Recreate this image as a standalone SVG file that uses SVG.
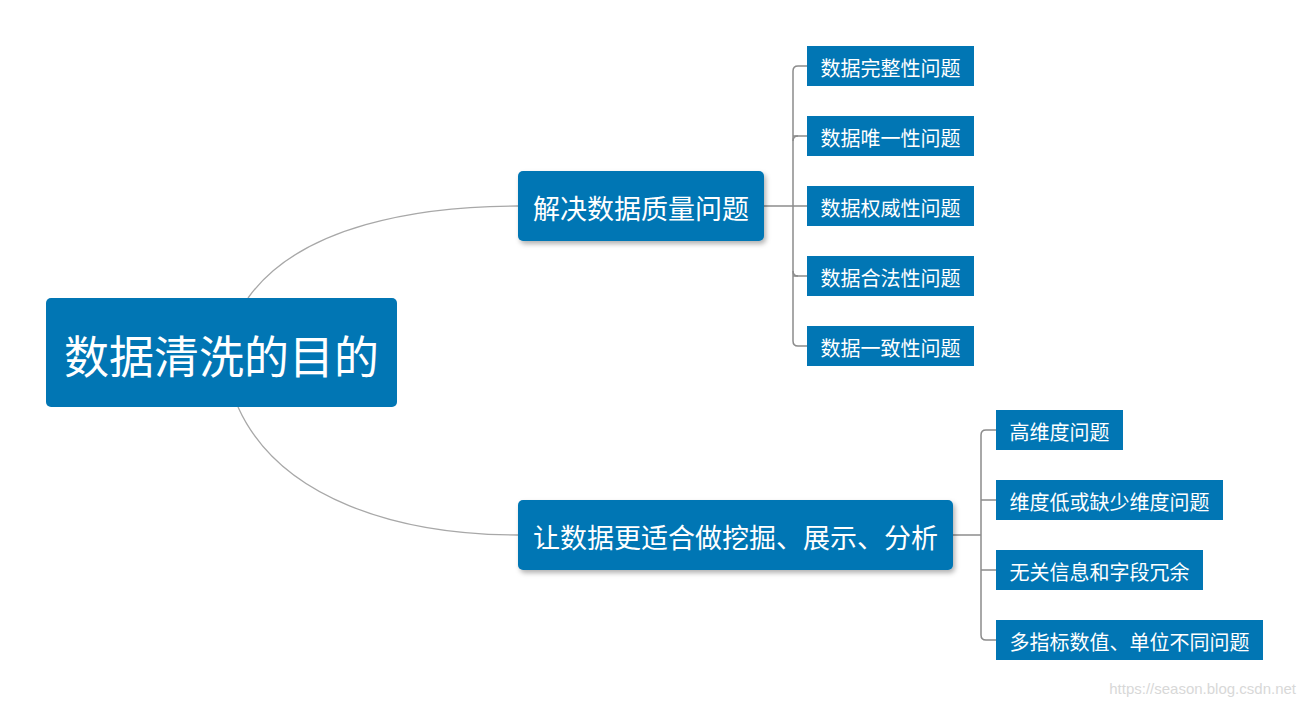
<svg xmlns="http://www.w3.org/2000/svg" width="1306" height="705" viewBox="0 0 1306 705">
<style>
.main{fill:#0176b4}
.leaf{fill:#0176b4}
.t{fill:#fff;font-family:"Noto Sans CJK SC","Noto Sans",sans-serif;text-anchor:middle;dominant-baseline:central}
.curve{fill:none;stroke:#a8a8a8;stroke-width:1.3}
.br{fill:none;stroke:#8c8c8c;stroke-width:1.5}
</style>
<defs>
<filter id="sh" x="-10%" y="-20%" width="125%" height="150%">
<feDropShadow dx="2" dy="3" stdDeviation="2.5" flood-color="#000" flood-opacity="0.3"/>
</filter>
</defs>
<rect width="1306" height="705" fill="#fff"/>
<g id="connectors">
<path class="curve" d="M248,298 C300,225 420,206 518,206"/>
<path class="curve" d="M238,407 C280,500 400,535 518,535"/>
<path class="br" d="M764,206 H793"/>
<path class="br" d="M807,66 H798 Q793,66 793,71 V341 Q793,346 798,346 H807"/>
<path class="br" d="M793,136 H807 M793,206 H807 M793,276 H807"/>
<path class="br" d="M793,141 Q793,136 798,136 M793,271 Q793,276 798,276"/>
<path class="br" d="M953,535 H981"/>
<path class="br" d="M996,430 H986 Q981,430 981,435 V635 Q981,640 986,640 H996"/>
<path class="br" d="M981,500 H996 M981,570 H996"/>
</g>
<g id="root">
<rect x="46" y="298" width="351" height="109" rx="5" class="main"/>
<text x="221.5" y="354" class="t" font-size="45">数据清洗的目的</text>
</g>
<g id="nodeA">
<rect x="518" y="171" width="246" height="70" rx="5" class="main" filter="url(#sh)"/>
<text x="641" y="207" class="t" font-size="27">解决数据质量问题</text>
</g>
<g id="nodeB">
<rect x="518" y="500" width="435" height="70" rx="5" class="main" filter="url(#sh)"/>
<text x="735.5" y="536" class="t" font-size="27">让数据更适合做挖掘、展示、分析</text>
</g>
<g id="a1"><rect x="807" y="46" width="167" height="40" class="leaf"/><text x="890.5" y="67" class="t" font-size="20">数据完整性问题</text></g>
<g id="a2"><rect x="807" y="116" width="167" height="40" class="leaf"/><text x="890.5" y="137" class="t" font-size="20">数据唯一性问题</text></g>
<g id="a3"><rect x="807" y="186" width="167" height="40" class="leaf"/><text x="890.5" y="207" class="t" font-size="20">数据权威性问题</text></g>
<g id="a4"><rect x="807" y="256" width="167" height="40" class="leaf"/><text x="890.5" y="277" class="t" font-size="20">数据合法性问题</text></g>
<g id="a5"><rect x="807" y="326" width="167" height="40" class="leaf"/><text x="890.5" y="347" class="t" font-size="20">数据一致性问题</text></g>
<g id="b1"><rect x="996" y="410" width="127" height="40" class="leaf"/><text x="1059.5" y="431" class="t" font-size="20">高维度问题</text></g>
<g id="b2"><rect x="996" y="480" width="227" height="40" class="leaf"/><text x="1109.5" y="501" class="t" font-size="20">维度低或缺少维度问题</text></g>
<g id="b3"><rect x="996" y="550" width="207" height="40" class="leaf"/><text x="1099.5" y="571" class="t" font-size="20">无关信息和字段冗余</text></g>
<g id="b4"><rect x="996" y="620" width="267" height="40" class="leaf"/><text x="1129.5" y="641" class="t" font-size="20">多指标数值、单位不同问题</text></g>
<text x="1296" y="694" font-family="Liberation Sans, sans-serif" font-size="15" fill="#d8d8d8" text-anchor="end">https://season.blog.csdn.net</text>
</svg>
